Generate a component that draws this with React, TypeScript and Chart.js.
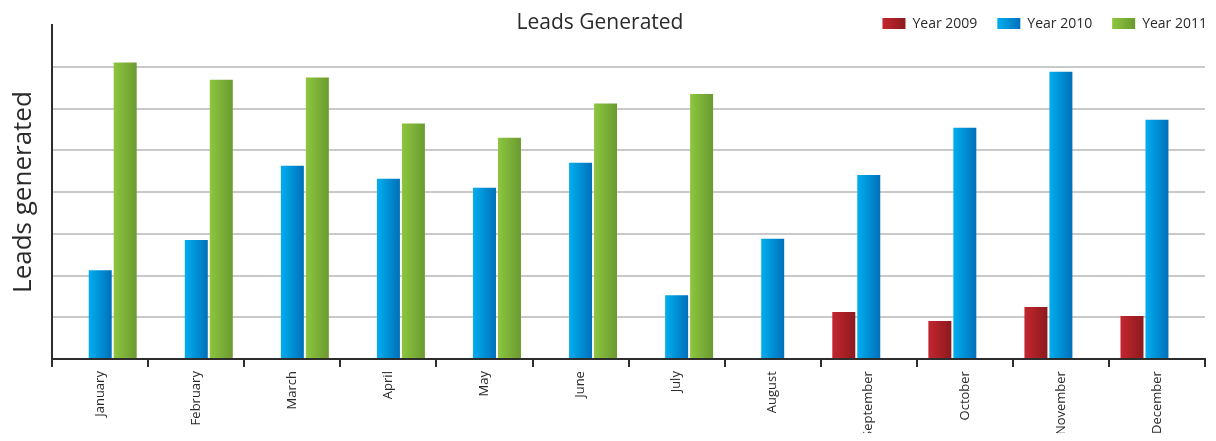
import React, { useEffect, useRef } from "react";
import { Chart, registerables } from "chart.js";

Chart.register(...registerables);

const months = [
  "January", "February", "March", "April", "May", "June",
  "July", "August", "September", "October", "November", "December",
];
const year2009 = [null, null, null, null, null, null, null, null, 1.13, 0.91, 1.25, 1.03];
const year2010 = [2.13, 2.85, 4.63, 4.32, 4.1, 4.7, 1.53, 2.88, 4.41, 5.54, 6.88, 5.73];
const year2011 = [7.1, 6.69, 6.74, 5.64, 5.3, 6.12, 6.35, null, null, null, null, null];
const seriesNames = ["Year 2009", "Year 2010", "Year 2011"];
const colorStops = [
  ["#c4262e", "#8c1a1e"],
  ["#00aeef", "#0070ba"],
  ["#8dc63f", "#6b9a30"],
];
const yMax = 8;

const CAT_PCT = 0.78;
const BAR_PCT = 0.92;
const FONT = "'Open Sans', 'DejaVu Sans', sans-serif";

function barGradient(c: any) {
  const ds = c.datasetIndex ?? 0;
  const base = colorStops[ds][0];
  if (c.type !== "data" || c.dataIndex === undefined) return base;
  const chart = c.chart;
  const xs = chart.scales?.x;
  if (!xs || !chart.chartArea) return base;
  const catW = xs.width / months.length;
  const center = xs.getPixelForValue(c.dataIndex);
  const slot = (catW * CAT_PCT) / 3;
  const left = center - (catW * CAT_PCT) / 2 + ds * slot + (slot * (1 - BAR_PCT)) / 2;
  const w = slot * BAR_PCT;
  const g = chart.ctx.createLinearGradient(left, 0, left + w, 0);
  g.addColorStop(0, colorStops[ds][0]);
  g.addColorStop(1, colorStops[ds][1]);
  return g;
}

const headerPlugin = {
  id: "header",
  afterDraw(chart: any) {
    const ctx = chart.ctx as CanvasRenderingContext2D;
    ctx.save();
    ctx.fillStyle = "#2a2a2a";
    ctx.font = `21px ${FONT}`;
    ctx.textAlign = "center";
    ctx.textBaseline = "middle";
    ctx.fillText("Leads Generated", 592, 15);

    ctx.font = `14px ${FONT}`;
    ctx.textAlign = "left";
    let right = chart.width - 1;
    const boxW = 23;
    const boxH = 11;
    const gapBoxText = 7;
    const gapItems = 20;
    const positions: number[] = [];
    for (let i = seriesNames.length - 1; i >= 0; i--) {
      const tw = ctx.measureText(seriesNames[i]).width;
      const start = right - tw - gapBoxText - boxW;
      positions[i] = start;
      right = start - gapItems;
    }
    for (let i = 0; i < seriesNames.length; i++) {
      const x = positions[i];
      const y = 10;
      const g = ctx.createLinearGradient(x, 0, x + boxW, 0);
      g.addColorStop(0, colorStops[i][0]);
      g.addColorStop(1, colorStops[i][1]);
      ctx.fillStyle = g;
      ctx.fillRect(x, y, boxW, boxH);
      ctx.fillStyle = "#2a2a2a";
      ctx.fillText(seriesNames[i], x + boxW + gapBoxText, y + boxH / 2 + 0.5);
    }
    ctx.restore();
  },
};

export default function App() {
  const ref = useRef<HTMLCanvasElement | null>(null);

  useEffect(() => {
    if (!ref.current) return;
    const data = [year2009, year2010, year2011];
    const chart = new Chart(ref.current, {
      type: "bar",
      data: {
        labels: months,
        datasets: data.map((d, i) => ({
          label: seriesNames[i],
          data: d,
          backgroundColor: barGradient,
          borderWidth: 0,
          categoryPercentage: CAT_PCT,
          barPercentage: BAR_PCT,
        })),
      },
      options: {
        animation: false,
        responsive: true,
        maintainAspectRatio: false,
        layout: { padding: { top: 17, right: 3, left: 0, bottom: 0 } },
        plugins: {
          legend: { display: false },
          title: { display: false },
          tooltip: { enabled: false },
        },
        scales: {
          x: {
            grid: {
              display: true,
              drawOnChartArea: false,
              drawTicks: true,
              tickLength: 8,
              color: "#2d2d2d",
              lineWidth: 2,
            },
            border: { display: true, color: "#2d2d2d", width: 2 },
            ticks: {
              minRotation: 90,
              maxRotation: 90,
              padding: 4,
              color: "#2a2a2a",
              font: { family: FONT, size: 13 },
              autoSkip: false,
            },
          },
          y: {
            min: 0,
            max: yMax,
            ticks: { display: false, stepSize: 1 },
            grid: {
              drawTicks: false,
              lineWidth: 2,
              color: (c: any) => (c.tick && c.tick.value === yMax ? "rgba(0,0,0,0)" : "#c9c9cb"),
            },
            border: { display: true, color: "#2d2d2d", width: 2 },
            title: {
              display: true,
              text: "Leads generated",
              color: "#2a2a2a",
              font: { family: FONT, size: 26 },
              padding: { top: 0, bottom: 13 },
            },
          },
        },
      },
      plugins: [headerPlugin],
    });
    chart.update();
    return () => chart.destroy();
  }, []);

  return (
    <div style={{ width: 1200, height: 433, overflow: "hidden", marginBottom: -8 }}>
      <div style={{ position: "relative", width: 1200, height: 434 }}>
        <canvas ref={ref} />
      </div>
    </div>
  );
}
